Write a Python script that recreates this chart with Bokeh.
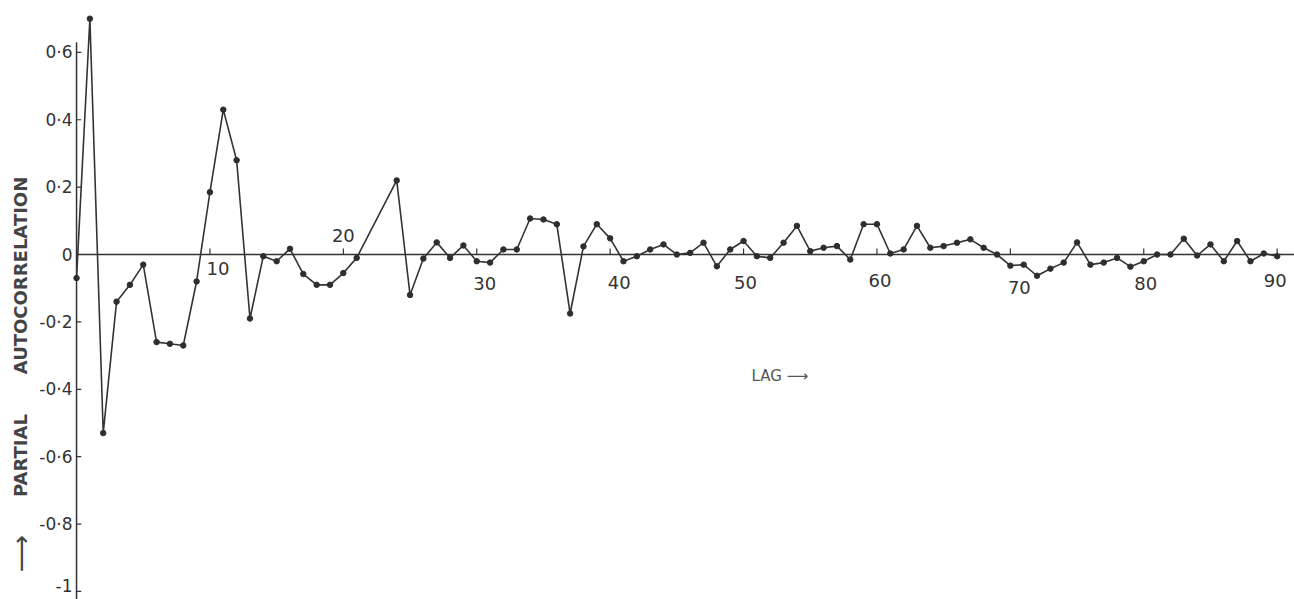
import math
from bokeh.plotting import figure
from bokeh.models import Range1d, Label, ColumnDataSource
from bokeh.core.properties import value
from bokeh.embed import file_html
from bokeh.resources import INLINE

# ---- data ----
lags = list(range(0, 22)) + list(range(24, 91))
pacf = [
    -0.07, 0.70, -0.53, -0.14, -0.09, -0.03, -0.26, -0.265, -0.27, -0.08,
    0.185, 0.43, 0.28, -0.19, -0.005, -0.02, 0.017, -0.058, -0.09, -0.09,
    -0.055, -0.01,
    0.22, -0.12, -0.012, 0.036, -0.01, 0.027,
    -0.02, -0.024, 0.015, 0.015, 0.107, 0.104, 0.09, -0.175, 0.024, 0.09,
    0.048, -0.02, -0.005, 0.015, 0.03, 0.0, 0.005, 0.035, -0.035, 0.015,
    0.04, -0.005, -0.01, 0.035, 0.085, 0.01, 0.02, 0.025, -0.015, 0.09,
    0.09, 0.003, 0.015, 0.085, 0.02, 0.025, 0.035, 0.045, 0.02, 0.0,
    -0.033, -0.03, -0.063, -0.042, -0.024, 0.036, -0.03, -0.024, -0.01, -0.036,
    -0.02, 0.0, 0.0, 0.047, -0.003, 0.03, -0.02, 0.04, -0.02, 0.003,
    -0.005,
]
x_ticks = [10, 20, 30, 40, 50, 60, 70, 80, 90]
x_tick_labels = ["10", "20", "30", "40", "50", "60", "70", "80", "90"]
y_ticks = [0.6, 0.4, 0.2, 0, -0.2, -0.4, -0.6, -0.8, -1]
y_tick_labels = ["0·6", "0·4", "0·2", "0", "-0·2", "-0·4", "-0·6", "-0·8", "-1"]
x_title = "LAG ⟶"
y_title_words = ["PARTIAL", "AUTOCORRELATION"]

# ---- styling ----
INK = "#333333"
FONT = "DejaVu Sans"
x_label_dx = [8, 0, 8, 9, 2, 3, 9, 2, -2]
x_label_dy = [14, -19, 29, 28, 28, 26, 33, 29, 26]
y_label_dy = [0, 0, 0, 0, 0, 0, 0, 0, -6]
X_MIN, X_MAX = -5.70, 91.3
Y_MIN, Y_MAX = -1.024, 0.754
AXIS_TOP = 0.63

p = figure(width=1294, height=599, output_backend="svg", toolbar_location=None,
           x_range=Range1d(X_MIN, X_MAX), y_range=Range1d(Y_MIN, Y_MAX),
           x_axis_location=None, y_axis_location=None,
           min_border_left=0, min_border_right=0, min_border_top=0, min_border_bottom=0)
p.outline_line_color = None
p.grid.visible = False
p.background_fill_color = "white"
p.border_fill_color = "white"

# hand-drawn style vertical axis at lag 0
p.segment(x0=[0], y0=[Y_MIN], x1=[0], y1=[AXIS_TOP], line_color=INK, line_width=1.5)
ysrc = ColumnDataSource(dict(y=y_ticks, lab=y_tick_labels, dy=y_label_dy,
                             x0=[0] * len(y_ticks), x1=[0.35] * len(y_ticks)))
p.segment(x0="x0", y0="y", x1="x1", y1="y", source=ysrc, line_color=INK, line_width=1.2)
p.text(x="x0", y="y", text="lab", source=ysrc, x_offset=-4, y_offset="dy",
       text_font=value(FONT), text_font_size="17px", text_color=INK,
       text_align="right", text_baseline="middle")

# zero line with its ticks
p.segment(x0=[0], y0=[0], x1=[X_MAX], y1=[0], line_color=INK, line_width=1.4)
tick_src = ColumnDataSource(dict(x=x_ticks, lab=x_tick_labels, dx=x_label_dx, dy=x_label_dy,
                                 y0=[0] * len(x_ticks), y1=[0.018] * len(x_ticks)))
p.segment(x0="x", y0="y0", x1="x", y1="y1", source=tick_src, line_color=INK, line_width=1.2)
p.text(x="x", y="y0", text="lab", x_offset="dx", y_offset="dy", source=tick_src,
       text_font=value(FONT), text_font_size="18px", text_color=INK,
       text_align="center", text_baseline="middle")

# series
src = ColumnDataSource(dict(lag=lags, v=pacf))
p.line("lag", "v", source=src, line_color=INK, line_width=1.6)
p.scatter("lag", "v", source=src, size=5.5, fill_color="#2e2e2e", line_color="#2e2e2e")

# axis titles
p.add_layout(Label(x=50.6, y=-0.36, text=x_title, text_font=FONT, text_font_size="15px",
                   text_color="#555555", text_baseline="middle"))
p.add_layout(Label(x=20, y=46, x_units="screen", y_units="screen", angle=math.pi / 2,
                   text="⟶", text_font=FONT, text_font_size="26px",
                   text_color="#444444", text_baseline="middle", text_align="center"))
p.add_layout(Label(x=20, y=144, x_units="screen", y_units="screen", angle=math.pi / 2,
                   text=y_title_words[0], text_font=FONT, text_font_size="18px",
                   text_font_style="bold", text_color="#444444",
                   text_baseline="middle", text_align="center"))
p.add_layout(Label(x=20, y=324, x_units="screen", y_units="screen", angle=math.pi / 2,
                   text=y_title_words[1], text_font=FONT, text_font_size="18px",
                   text_font_style="bold", text_color="#444444",
                   text_baseline="middle", text_align="center"))

open("out.html", "w").write(file_html(p, INLINE))
